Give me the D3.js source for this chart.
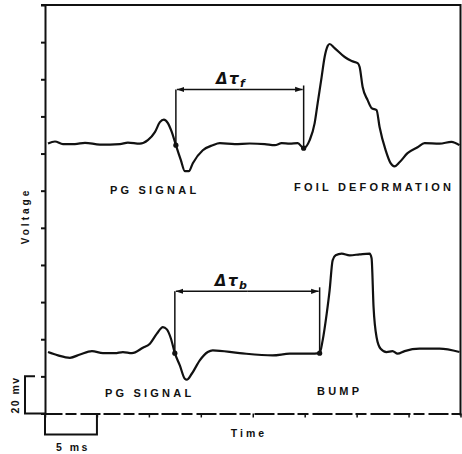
<!DOCTYPE html>
<html>
<head>
<meta charset="utf-8">
<script src="https://cdn.jsdelivr.net/npm/d3@7"></script>
<style>
  body { margin: 0; background: #fff; }
  svg { display: block; }
  text { font-family: "Liberation Sans", Arial, sans-serif; font-weight: bold; fill: #111; }
</style>
</head>
<body>
<div id="chart"></div>
<script>
"use strict";

// time in ms, voltage in mV (traces offset vertically as on the scope photo)
const foilTime = [0.29, 0.96, 1.73, 2.88, 3.85, 5.29, 7.21, 7.98, 9.13, 9.90, 10.58, 11.06, 11.44, 11.83, 12.21, 12.60,
  13.08, 13.46, 13.85, 14.23, 15.19, 16.15, 16.83, 18.27, 19.71, 21.15, 22.12, 22.79, 23.56, 24.33, 24.90, 25.48,
  25.96, 26.25, 26.63, 26.92, 27.21, 27.40, 27.88, 28.85, 29.52, 30.10, 30.29, 30.58, 31.06, 31.44, 31.92, 32.21,
  32.79, 33.27, 33.65, 34.13, 34.90, 35.87, 36.54, 37.98, 39.13, 39.90];
const foilVolt = [145.4, 146.5, 145.1, 145.1, 145.8, 144.8, 145.1, 145.9, 145.3, 147.2, 151.5, 156.9, 158.3, 156.4, 151.5, 144.5,
  136.4, 130.5, 130.5, 134.8, 141.8, 144.5, 145.6, 145.1, 145.4, 145.1, 144.5, 145.6, 145.3, 145.6, 142.9, 147.2,
  156.4, 167.2, 181.2, 192.0, 197.9, 199.0, 196.8, 192.0, 189.8, 188.7, 186.6, 175.8, 168.8, 164.5, 163.4, 154.3,
  141.8, 134.8, 133.1, 135.3, 140.2, 143.4, 145.6, 145.3, 146.3, 144.5];

const bumpTime = [0.29, 1.25, 2.40, 3.37, 4.52, 5.58, 6.73, 7.50, 8.37, 9.42, 10.10, 10.77, 11.35, 11.73, 12.12, 12.50,
  12.98, 13.46, 13.65, 14.13, 14.90, 15.67, 16.15, 18.75, 21.92, 23.56, 25.48, 26.44, 26.73, 27.12, 27.40, 27.69,
  27.98, 28.56, 29.33, 30.29, 31.25, 31.44, 31.63, 31.92, 32.31, 32.88, 33.46, 33.94, 34.62, 36.06, 37.98, 39.90];
const bumpVolt = [33.1, 31.3, 30.0, 31.8, 33.6, 32.5, 32.5, 33.1, 32.5, 35.4, 37.6, 43.0, 46.5, 45.3, 40.4, 32.5,
  25.9, 18.7, 18.2, 21.4, 28.6, 33.1, 34.0, 32.5, 31.3, 32.2, 32.2, 32.5, 39.4, 53.8, 66.3, 82.5,
  85.2, 86.1, 85.2, 85.7, 86.1, 83.6, 57.3, 41.1, 34.9, 33.1, 33.6, 32.2, 33.6, 34.9, 34.9, 33.1];

// onset markers [start, end] in ms and the bracket height in mV
const foilMarks = [[12.60, 144.5], [24.90, 142.9]];
const bumpMarks = [[12.50, 32.5], [26.44, 32.5]];
const bracketLevel = [174.5, 65.8];
const bracketLabels = ["f", "b"];

const timeTicks = d3.range(0, 41, 5);
const voltTicks = d3.range(0, 221, 20);

const W = 462, H = 454;
const x = d3.scaleLinear().domain([0, 40]).range([45, 460.5]);
const y = d3.scaleLinear().domain([0, 220]).range([413.5, 5]);

const svg = d3.select('#chart').append('svg').attr('width', W).attr('height', H);

svg.append('defs').append('marker')
   .attr('id', 'arr').attr('viewBox', '0 0 10 10')
   .attr('refX', 10).attr('refY', 5)
   .attr('markerWidth', 5).attr('markerHeight', 5)
   .attr('orient', 'auto-start-reverse')
   .append('path').attr('d', 'M0,1.5 L10,5 L0,8.5 Z').attr('fill', '#111');

// frame: top and right borders
svg.append('path')
   .attr('d', `M${x(0) - 4},${y(220)} H${x(40)} V${y(0) + 2}`)
   .attr('fill', 'none').attr('stroke', '#111').attr('stroke-width', 2);

// axes
const yAxis = svg.append('g').attr('transform', `translate(${x(0)},0)`)
   .call(d3.axisLeft(y).tickValues(voltTicks).tickSize(4).tickSizeOuter(0).tickFormat(''));
const xAxis = svg.append('g').attr('transform', `translate(0,${y(0)})`)
   .call(d3.axisBottom(x).tickValues(timeTicks).tickSize(4).tickSizeOuter(0).tickFormat(''));
yAxis.selectAll('path, line').attr('stroke', '#111').attr('stroke-width', 2);
xAxis.selectAll('line').attr('stroke', '#111').attr('stroke-width', 1.5);
xAxis.select('path').attr('stroke', '#111').attr('stroke-width', 2).attr('stroke-dasharray', '17,3,11,4,20,3');

// traces
const line = d3.line().x(d => x(d[0])).y(d => y(d[1])).curve(d3.curveMonotoneX);
[[foilTime, foilVolt], [bumpTime, bumpVolt]].forEach(([t, v]) => {
    svg.append('path').datum(d3.zip(t, v)).attr('d', line)
       .attr('fill', 'none').attr('stroke', '#111').attr('stroke-width', 2.2)
       .attr('stroke-linejoin', 'round');
});

// delay brackets
[foilMarks, bumpMarks].forEach((m, i) => {
    const lv = y(bracketLevel[i]);
    svg.append('path')
       .attr('d', `M${x(m[0][0])},${y(m[0][1])} V${lv}`)
       .attr('fill', 'none').attr('stroke', '#111').attr('stroke-width', 1.5);
    svg.append('path')
       .attr('d', `M${x(m[1][0])},${y(m[1][1])} V${lv - 4}`)
       .attr('fill', 'none').attr('stroke', '#111').attr('stroke-width', 1.5);
    const mid = (x(m[0][0]) + x(m[1][0])) / 2;
    svg.append('line').attr('x1', mid).attr('x2', x(m[0][0]) + 1).attr('y1', lv).attr('y2', lv)
       .attr('stroke', '#111').attr('stroke-width', 1.5).attr('marker-end', 'url(#arr)');
    svg.append('line').attr('x1', mid).attr('x2', x(m[1][0]) - 1).attr('y1', lv).attr('y2', lv)
       .attr('stroke', '#111').attr('stroke-width', 1.5).attr('marker-end', 'url(#arr)');
    svg.selectAll(null).data(m).enter().append('circle')
       .attr('cx', d => x(d[0])).attr('cy', d => y(d[1])).attr('r', 2.6).attr('fill', '#111');
    const lbl = svg.append('text').attr('x', x(m[0][0]) + 40).attr('y', lv - 5)
       .style('font-family', '"DejaVu Sans", sans-serif').style('font-size', '15px')
       .style('font-style', 'italic').style('letter-spacing', '1.5px');
    lbl.append('tspan').text('Δτ');
    lbl.append('tspan').attr('dy', 3).style('font-size', '11px').text(bracketLabels[i]);
});

// trace labels
const labels = [
    ['PG SIGNAL', 110, 194], ['FOIL DEFORMATION', 294, 191],
    ['PG SIGNAL', 105, 397], ['BUMP', 317, 395]
];
svg.selectAll('.lab').data(labels).enter().append('text').attr('class', 'lab')
   .attr('x', d => d[1]).attr('y', d => d[2])
   .style('font-size', '11px').style('letter-spacing', '3.2px').text(d => d[0]);

// scale bars: 20 mV and 5 ms
svg.append('path')
   .attr('d', `M${x(0) - 10},${y(20)} H${x(0) - 20} V${y(0)} H${x(0)}`)
   .attr('fill', 'none').attr('stroke', '#111').attr('stroke-width', 2);
svg.append('path')
   .attr('d', `M${x(0)},${y(0)} V${y(0) + 21} H${x(5)} V${y(0)}`)
   .attr('fill', 'none').attr('stroke', '#111').attr('stroke-width', 2);

svg.append('text').attr('transform', `translate(19,${(y(0) + y(20)) / 2}) rotate(-90)`)
   .attr('text-anchor', 'middle').style('font-size', '10.5px').style('letter-spacing', '1.5px').text('20 mv');
svg.append('text').attr('x', (x(0) + x(5)) / 2 + 2).attr('y', 451).attr('text-anchor', 'middle')
   .style('font-size', '10.5px').style('letter-spacing', '2.5px').text('5 ms');
svg.append('text').attr('x', 249).attr('y', 437).attr('text-anchor', 'middle')
   .style('font-size', '10.5px').style('letter-spacing', '3px').text('Time');
svg.append('text').attr('transform', `translate(29,216) rotate(-90)`)
   .attr('text-anchor', 'middle').style('font-size', '10px').style('letter-spacing', '3px').text('Voltage');
</script>
</body>
</html>
